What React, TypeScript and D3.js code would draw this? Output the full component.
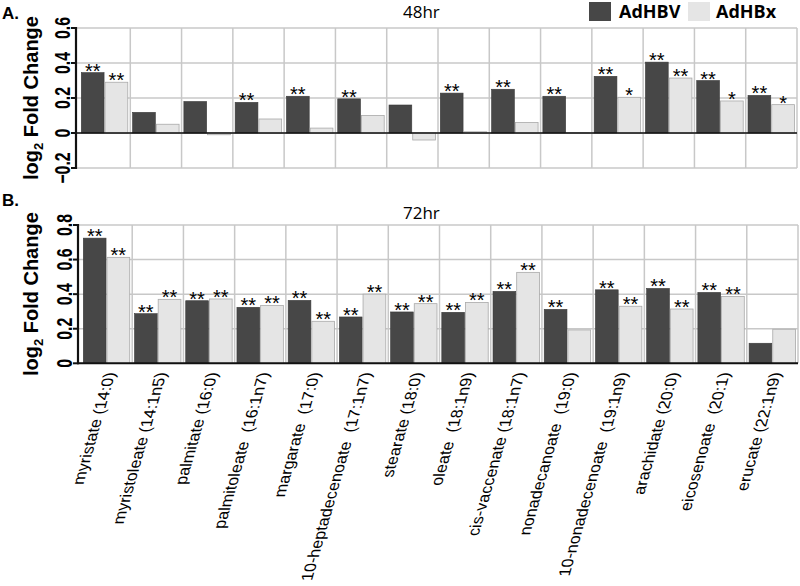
import React from "react";
import * as d3 from "d3";

const categories = [
  "myristate (14:0)",
  "myristoleate (14:1n5)",
  "palmitate (16:0)",
  "palmitoleate  (16:1n7)",
  "margarate  (17:0)",
  "10-heptadecenoate  (17:1n7)",
  "stearate (18:0)",
  "oleate  (18:1n9)",
  "cis-vaccenate (18:1n7)",
  "nonadecanoate  (19:0)",
  "10-nonadecenoate  (19:1n9)",
  "arachidate (20:0)",
  "eicosenoate  (20:1)",
  "erucate (22:1n9)",
];

const seriesNames = ["AdHBV", "AdHBx"];

const hbv48 = [0.345, 0.118, 0.18, 0.175, 0.21, 0.195, 0.16, 0.228, 0.25, 0.21, 0.324, 0.405, 0.3, 0.215];
const hbx48 = [0.29, 0.05, -0.01, 0.08, 0.028, 0.1, -0.04, 0.007, 0.06, 0.002, 0.204, 0.314, 0.183, 0.162];
const hbv72 = [0.724, 0.287, 0.362, 0.324, 0.364, 0.268, 0.297, 0.295, 0.416, 0.312, 0.425, 0.433, 0.41, 0.116];
const hbx72 = [0.613, 0.37, 0.372, 0.335, 0.243, 0.4, 0.345, 0.352, 0.526, 0.193, 0.33, 0.314, 0.387, 0.197];

const sigHbv48 = ["**", "", "", "**", "**", "**", "", "**", "**", "**", "**", "**", "**", "**"];
const sigHbx48 = ["**", "", "", "", "", "", "", "", "", "", "*", "**", "*", "*"];
const sigHbv72 = ["**", "**", "**", "**", "**", "**", "**", "**", "**", "**", "**", "**", "**", ""];
const sigHbx72 = ["**", "**", "**", "**", "**", "**", "**", "**", "**", "", "**", "**", "**", ""];

const ticks48 = [-0.2, 0, 0.2, 0.4, 0.6];
const ticks72 = [0, 0.2, 0.4, 0.6, 0.8];

const DARK = "#474747";
const LIGHT = "#e5e5e5";
const GRID = "#c8c8c8";
const SANS = "'Liberation Sans', Arial, sans-serif";
const OPEN = "'Open Sans', sans-serif";

type PanelProps = {
  letter: string;
  letterY: number;
  title: string;
  titleY: number;
  a: number[];
  b: number[];
  sa: string[];
  sb: string[];
  domain: [number, number];
  ticks: number[];
  yTop: number;
  yBottom: number;
  xLeft: number;
  xRight: number;
  showLabels: boolean;
};

function Panel(p: PanelProps) {
  const x = d3.scaleBand<string>().domain(categories).range([p.xLeft, p.xRight]).padding(0);
  const y = d3.scaleLinear().domain(p.domain).range([p.yBottom, p.yTop]);
  const step = x.step();
  const sub = d3.scaleBand<string>().domain(seriesNames).range([2.3, step - 2.5]).paddingInner(0.04);
  const axisX = p.xLeft - 3;
  const fmt = (v: number) => (v === 0 ? "0" : d3.format(".1f")(v));
  return (
    <g>
      <text x={2} y={p.letterY} fontFamily={SANS} fontWeight="bold" fontSize={17}>
        {p.letter}
      </text>
      <text x={403} y={p.titleY} fontFamily={OPEN} fontSize={17}>
        {p.title}
      </text>
      {p.ticks.map((t) => (
        <line key={"h" + t} x1={axisX} x2={p.xRight} y1={y(t)} y2={y(t)} stroke={GRID} strokeWidth={1.5} />
      ))}
      {categories.map((c, i) => (
        <line key={"v" + i} x1={(x(c) as number) + step} x2={(x(c) as number) + step} y1={p.yTop} y2={p.yBottom} stroke={GRID} strokeWidth={1.5} />
      ))}
      {categories.map((c, i) => {
        const bx = x(c) as number;
        const va = p.a[i];
        const vb = p.b[i];
        const y0 = y(0);
        const xa = bx + (sub("AdHBV") as number);
        const xb = bx + (sub("AdHBx") as number);
        const w = sub.bandwidth();
        return (
          <g key={"b" + i}>
            <rect x={xa} width={w} y={Math.min(y(va), y0)} height={Math.abs(y(va) - y0)} fill={DARK} stroke="#3a3a3a" strokeWidth={0.6} />
            <rect x={xb} width={w} y={Math.min(y(vb), y0)} height={Math.max(Math.abs(y(vb) - y0), 0.5)} fill={LIGHT} stroke="#a9a9a9" strokeWidth={0.8} />
            {p.sa[i] && (
              <text x={xa + w / 2} y={y(va) + 5} textAnchor="middle" fontFamily={SANS} fontSize={20}>
                {p.sa[i]}
              </text>
            )}
            {p.sb[i] && (
              <text x={xb + w / 2} y={y(vb) + 5} textAnchor="middle" fontFamily={SANS} fontSize={20}>
                {p.sb[i]}
              </text>
            )}
          </g>
        );
      })}
      <line x1={axisX} x2={p.xRight} y1={y(0)} y2={y(0)} stroke="#111" strokeWidth={p.domain[0] < 0 ? 1.5 : 2} />
      <line x1={axisX} x2={axisX} y1={p.yTop - 1} y2={p.yBottom + 1} stroke="#111" strokeWidth={2.2} />
      {p.ticks.map((t) => (
        <g key={"t" + t}>
          <line x1={axisX - 5} x2={axisX} y1={y(t)} y2={y(t)} stroke="#111" strokeWidth={2} />
          <text
            transform={`translate(${axisX - 6},${y(t)}) rotate(-90) scale(0.72,1)`}
            textAnchor="middle"
            fontFamily={SANS}
            fontWeight="bold"
            fontSize={22}
          >
            {fmt(t)}
          </text>
        </g>
      ))}
      <text
        transform={`translate(38,${(p.yTop + p.yBottom) / 2}) rotate(-90)`}
        textAnchor="middle"
        fontFamily={SANS}
        fontWeight="bold"
        fontSize={20}
      >
        log
        <tspan fontSize={13} dy={5}>2</tspan>
        <tspan dy={-5}> Fold Change</tspan>
      </text>
      {p.showLabels &&
        categories.map((c, i) => {
          const cx = (x(c) as number) + step / 2 + 9;
          return (
            <text
              key={"l" + i}
              transform={`translate(${cx},${p.yBottom + 9}) skewX(-16) rotate(-90)`}
              textAnchor="end"
              fontFamily={SANS}
              fontSize={16.2}
              style={{ whiteSpace: "pre" }}
            >
              {c}
            </text>
          );
        })}
    </g>
  );
}

export default function App() {
  return (
    <svg width={800} height={586} style={{ position: "absolute", left: 0, top: 0, background: "#fff" }}>
      <rect width={800} height={586} fill="#fff" />
      <Panel
        letter="A."
        letterY={19}
        title="48hr"
        titleY={18}
        a={hbv48}
        b={hbx48}
        sa={sigHbv48}
        sb={sigHbx48}
        domain={[-0.2, 0.6]}
        ticks={ticks48}
        yTop={28}
        yBottom={168}
        xLeft={79}
        xRight={797}
        showLabels={false}
      />
      <Panel
        letter="B."
        letterY={206}
        title="72hr"
        titleY={219}
        a={hbv72}
        b={hbx72}
        sa={sigHbv72}
        sb={sigHbx72}
        domain={[0, 0.8]}
        ticks={ticks72}
        yTop={225}
        yBottom={363.3}
        xLeft={81}
        xRight={798}
        showLabels={true}
      />
      <rect x={589} y={2} width={22} height={19} fill={DARK} />
      <text x={619} y={18} fontFamily={OPEN} fontWeight="bold" fontSize={18}>
        AdHBV
      </text>
      <rect x={688} y={2} width={22} height={19} fill={LIGHT} />
      <text x={716} y={18} fontFamily={OPEN} fontWeight="bold" fontSize={18}>
        AdHBx
      </text>
    </svg>
  );
}
